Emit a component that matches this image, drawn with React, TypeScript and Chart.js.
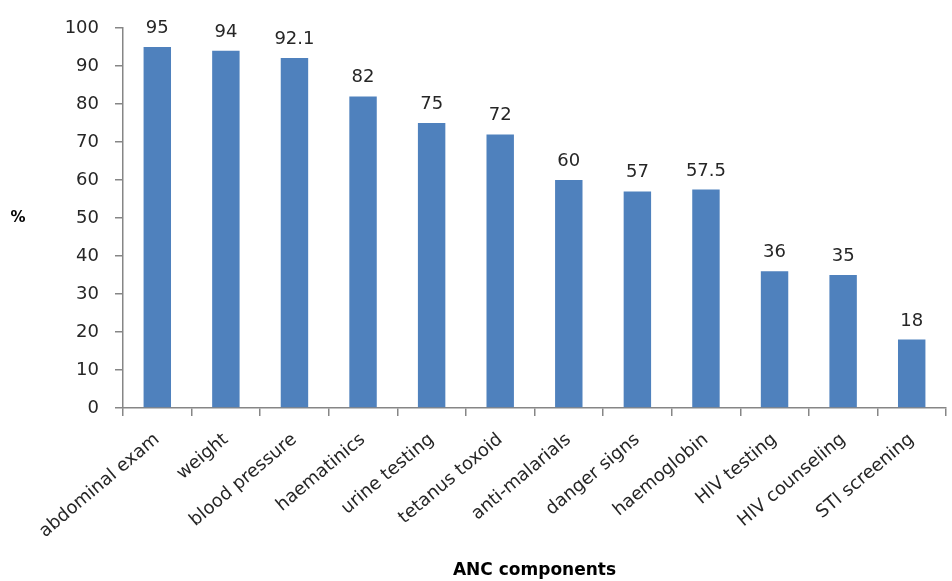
import React, { useEffect, useRef } from "react";
import { Chart, registerables } from "chart.js";

Chart.register(...registerables);

const categories = [
  "abdominal exam",
  "weight",
  "blood pressure",
  "haematinics",
  "urine testing",
  "tetanus toxoid",
  "anti-malarials",
  "danger signs",
  "haemoglobin",
  "HIV testing",
  "HIV counseling",
  "STI screening",
];
const values = [95, 94, 92.1, 82, 75, 72, 60, 57, 57.5, 36, 35, 18];
const valueLabels = ["95", "94", "92.1", "82", "75", "72", "60", "57", "57.5", "36", "35", "18"];
const xTitle = "ANC components";
const yTitle = "%";

const FONT = "'DejaVu Sans', Verdana, sans-serif";
const TEXT = "#262626";
const AXIS = "#868686";

const labelsPlugin = {
  id: "extras",
  afterDatasetsDraw(chart: any) {
    const ctx = chart.ctx;
    const meta = chart.getDatasetMeta(0);
    ctx.save();
    ctx.font = `18px ${FONT}`;
    ctx.fillStyle = TEXT;
    ctx.textAlign = "center";
    ctx.textBaseline = "alphabetic";
    meta.data.forEach((el: any, i: number) => {
      ctx.fillText(valueLabels[i], el.x, el.y - 14);
    });
    const ca = chart.chartArea;
    ctx.font = `bold 15px ${FONT}`;
    ctx.fillStyle = "#000";
    ctx.textBaseline = "middle";
    ctx.fillText(yTitle, 18, (ca.top + ca.bottom) / 2);
    ctx.restore();
  },
};

export default function App() {
  const ref = useRef<HTMLCanvasElement | null>(null);
  useEffect(() => {
    document.body.style.margin = "0";
    const chart = new Chart(ref.current as HTMLCanvasElement, {
      type: "bar",
      data: {
        labels: categories,
        datasets: [
          {
            data: values,
            backgroundColor: "#4F81BD",
            borderWidth: 0,
            categoryPercentage: 1,
            barPercentage: 0.4,
          },
        ],
      },
      options: {
        animation: false,
        responsive: false,
        maintainAspectRatio: false,
        layout: { padding: { top: 28, right: 6, bottom: 0, left: 0 } },
        plugins: { legend: { display: false }, tooltip: { enabled: false } },
        scales: {
          x: {
            afterFit: (s: any) => {
              s.height = 173;
            },
            border: { display: true, color: AXIS, width: 1.5 },
            grid: { drawOnChartArea: false, drawTicks: true, tickLength: 8, color: AXIS, lineWidth: 1.5 },
            ticks: {
              color: TEXT,
              font: { family: FONT, size: 18 },
              minRotation: 40,
              maxRotation: 40,
              autoSkip: false,
              padding: 13,
            },
            title: {
              display: true,
              text: xTitle,
              color: "#000",
              font: { family: FONT, size: 17, weight: "bold" },
              padding: { top: 0, bottom: 0 },
            },
          },
          y: {
            min: 0,
            max: 100,
            afterFit: (s: any) => {
              s.width = 123;
            },
            border: { display: true, color: AXIS, width: 1.5 },
            grid: { drawOnChartArea: false, drawTicks: true, tickLength: 8, color: AXIS, lineWidth: 1.5 },
            ticks: {
              stepSize: 10,
              color: TEXT,
              font: { family: FONT, size: 18 },
              padding: 16,
            },
          },
        },
      },
      plugins: [labelsPlugin],
    });
    return () => chart.destroy();
  }, []);
  return (
    <div style={{ width: 952, height: 581 }}>
      <canvas ref={ref} width={952} height={581} style={{ display: "block" }} />
    </div>
  );
}
